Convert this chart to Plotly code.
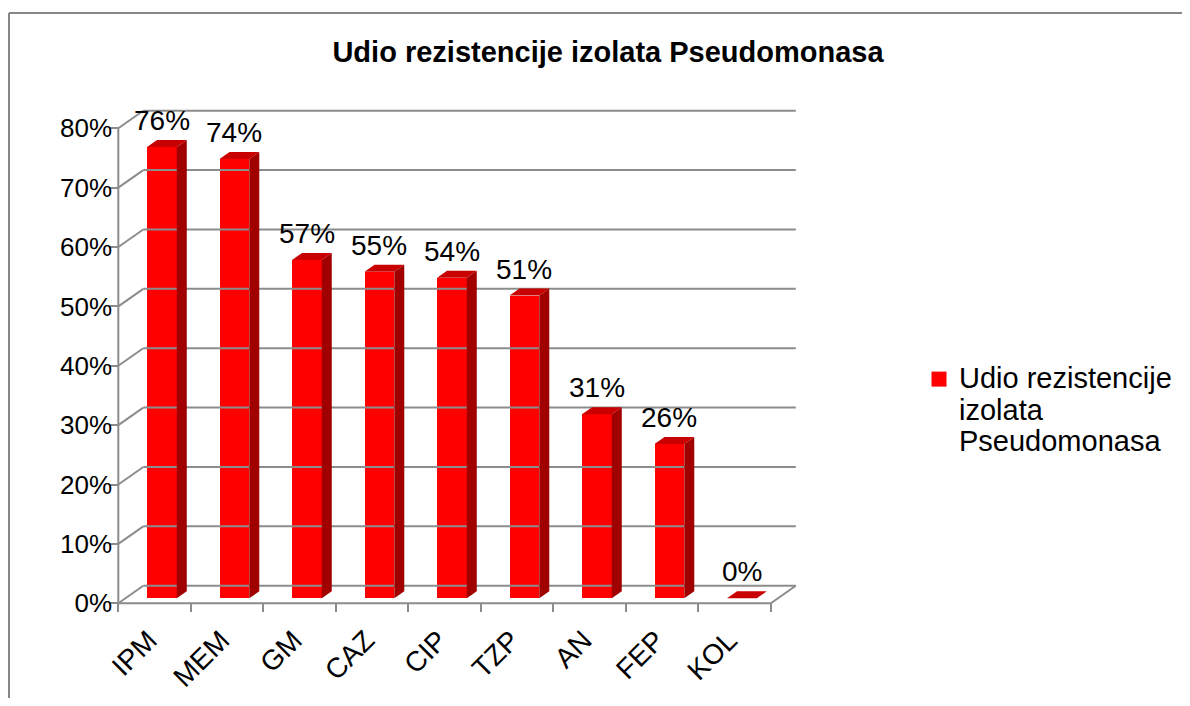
import plotly.graph_objects as go

# ---------------- data ----------------
categories = ["IPM", "MEM", "GM", "CAZ", "CIP", "TZP", "AN", "FEP", "KOL"]
values = [76, 74, 57, 55, 54, 51, 31, 26, 0]
y_ticks = [0, 10, 20, 30, 40, 50, 60, 70, 80]
y_ticktext = [f"{t}%" for t in y_ticks]
legend_lines = ["Udio rezistencije", "izolata", "Pseudomonasa"]
title_text = "Udio rezistencije izolata Pseudomonasa"

# ---------------- geometry / style ----------------
OFF = 8                         # page body margin
W, H = 1190 - 2 * OFF, 706 - 2 * OFF
X0, Y0 = 118.3, 603.3          # target page pixel of front-axis origin
KX, KY = 72.5, 5.9375          # px per category, px per percent
DEPTH_DX, DEPTH_DY = 25.0, 17.6
dxu = DEPTH_DX / KX
dyu = DEPTH_DY / KY
Z0, Z1 = 0.28, 0.68            # bar depth extent (0 = front, 1 = back)
BX0, BX1 = 0.30, 0.71          # bar x extent inside a category
PL, PR, PT, PB = 95, 850, 70, 635


def pxx(p):
    return (p - OFF) / W


def pxy(p):
    return 1 - (p - OFF) / H


FONT = "Liberation Sans, Arial, sans-serif"
GRID = "#8c8c8c"
RED_FRONT = "#ff0000"
RED_SIDE = "#a00000"
RED_TOP = "#c80000"

n = len(categories)
xr = [(PL - X0) / KX, (PR - X0) / KX]
yr = [(Y0 - PB) / KY, (Y0 - PT) / KY]

fig = go.Figure()

# back wall gridlines + left wall diagonals
gx, gy = [], []
for t in y_ticks:
    gx += [dxu, n + dxu, None, 0, dxu, None]
    gy += [t + dyu, t + dyu, None, t, t + dyu, None]
fig.add_trace(go.Scatter(x=gx, y=gy, mode="lines", line=dict(color=GRID, width=2),
                         hoverinfo="skip", showlegend=False))

# front faces as real bars
cx = [i + (BX0 + BX1) / 2 + Z0 * dxu for i in range(n)]
fig.add_trace(go.Bar(x=cx, y=values, base=[Z0 * dyu] * n, width=BX1 - BX0,
                     marker=dict(color=RED_FRONT, line=dict(width=0)),
                     hoverinfo="skip", showlegend=False))

# side and top faces
for i, v in enumerate(values):
    xa = i + BX0
    xb = i + BX1
    side_x = [xb + Z0 * dxu, xb + Z1 * dxu, xb + Z1 * dxu, xb + Z0 * dxu, xb + Z0 * dxu]
    side_y = [Z0 * dyu, Z1 * dyu, v + Z1 * dyu, v + Z0 * dyu, Z0 * dyu]
    top_x = [xa + Z0 * dxu, xb + Z0 * dxu, xb + Z1 * dxu, xa + Z1 * dxu, xa + Z0 * dxu]
    top_y = [v + Z0 * dyu, v + Z0 * dyu, v + Z1 * dyu, v + Z1 * dyu, v + Z0 * dyu]
    if v > 0:
        fig.add_trace(go.Scatter(x=side_x, y=side_y, fill="toself", fillcolor=RED_SIDE,
                                 mode="lines", line=dict(width=0), hoverinfo="skip",
                                 showlegend=False))
    fig.add_trace(go.Scatter(x=top_x, y=top_y, fill="toself", fillcolor=RED_TOP,
                             mode="lines", line=dict(width=0), hoverinfo="skip",
                             showlegend=False))

# front axis lines: vertical, floor front, floor right diagonal
fig.add_trace(go.Scatter(
    x=[0, 0, None, 0, n, n + dxu],
    y=[y_ticks[-1], 0, None, 0, 0, dyu],
    mode="lines", line=dict(color=GRID, width=2), hoverinfo="skip", showlegend=False))

# legend entry
legend_name = "<br>".join(f'<span style="font-size:29px">{s}</span>' for s in legend_lines)
fig.add_trace(go.Scatter(x=[None], y=[None], mode="markers", name=legend_name,
                         marker=dict(symbol="square", size=15, color=RED_FRONT),
                         showlegend=True, hoverinfo="skip"))

# data labels
for i, v in enumerate(values):
    fig.add_annotation(x=cx[i], y=v + Z1 * dyu, text=f"{v}%", showarrow=False,
                       xanchor="center", yanchor="bottom", yshift=2,
                       font=dict(family=FONT, size=28, color="black"))

# outer border
fig.add_shape(type="line", xref="paper", yref="paper", x0=pxx(9), x1=1.0, y0=pxy(13), y1=pxy(13),
              line=dict(color="#878787", width=2))
fig.add_shape(type="line", xref="paper", yref="paper", x0=pxx(9), x1=pxx(9), y0=pxy(13), y1=0,
              line=dict(color="#878787", width=2))

fig.update_layout(
    width=W, height=H, autosize=False,
    margin=dict(l=0, r=0, t=0, b=0),
    paper_bgcolor="white", plot_bgcolor="rgba(0,0,0,0)",
    font=dict(family=FONT, size=28, color="black"),
    title=dict(text=title_text, x=pxx(608), xanchor="center", y=pxy(52), yanchor="middle",
               font=dict(family=FONT, size=29, color="black", weight="bold")),
    showlegend=True,
    legend=dict(x=pxx(919), y=pxy(357), xanchor="left", yanchor="top", valign="top",
                font=dict(family=FONT, size=24, color="black"), bgcolor="rgba(0,0,0,0)"),
    bargap=0,
    xaxis=dict(domain=[pxx(PL), pxx(PR)], range=xr, anchor="free", position=pxy(Y0),
               tickmode="array", tickvals=[i + 0.42 for i in range(n)], ticktext=categories,
               tickangle=-45, ticks="", showgrid=False, zeroline=False, showline=False,
               ticklabelstandoff=14,
               tickfont=dict(family=FONT, size=28, color="black"), automargin=False,
               minor=dict(tickmode="array", tickvals=list(range(n + 1)), ticks="outside",
                          ticklen=8, tickwidth=2, tickcolor=GRID, showgrid=False)),
    yaxis=dict(domain=[pxy(PB), pxy(PT)], range=yr, anchor="free", position=pxx(X0),
               tickmode="array", tickvals=y_ticks, ticktext=y_ticktext,
               ticks="outside", ticklen=8, tickwidth=2, tickcolor=GRID,
               ticklabelstandoff=-7,
               showgrid=False, zeroline=False, showline=False,
               tickfont=dict(family=FONT, size=26, color="black"), automargin=False),
)

fig.write_html("out.html")
